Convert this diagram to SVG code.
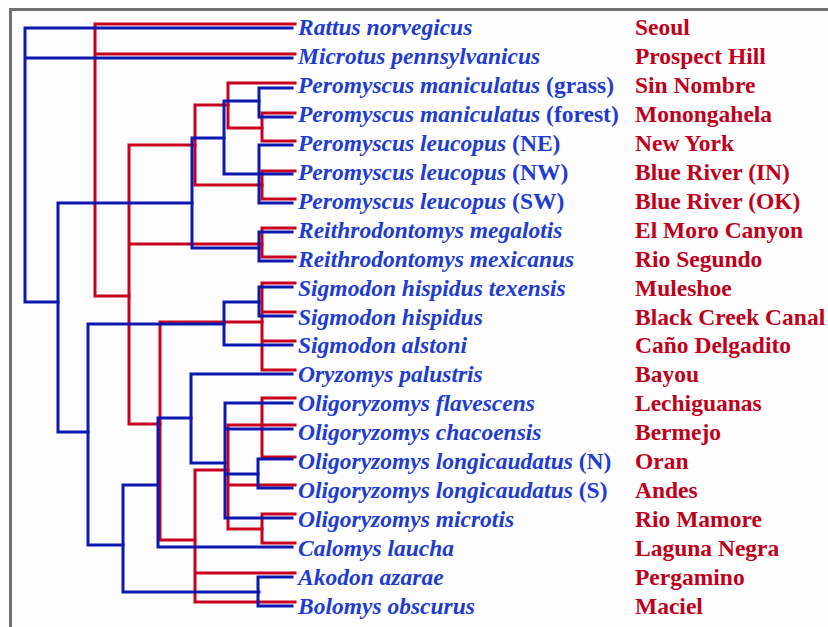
<svg xmlns="http://www.w3.org/2000/svg" width="828" height="627" viewBox="0 0 828 627">
<style>
.bg{fill:#fdfdfd}
.frame{fill:none;stroke:#707070;stroke-width:3}
.b{fill:none;stroke:#0c18b0;stroke-width:3;stroke-linecap:square;stroke-linejoin:miter}
.r{fill:none;stroke:#c8001e;stroke-width:3;stroke-linecap:square;stroke-linejoin:miter}
.sp{font-family:"Liberation Serif","Times New Roman",serif;font-size:23.5px;font-weight:bold;font-style:italic;fill:#1e3cd2}
.sp .n{font-style:normal}
.vi{font-family:"Liberation Serif","Times New Roman",serif;font-size:23.5px;font-weight:bold;fill:#c0001a}
</style>
<rect class="bg" x="0" y="0" width="828" height="627"/>
<rect class="frame" x="10.5" y="9.5" width="840" height="640"/>
<g id="connectors">
<g id="virus-tree">
<path class="r" d="M295,24H95V296M95,54H295M95,296H129"/>
<path class="r" d="M129,145V424M129,145H195M129,244H262M129,424H160"/>
<path class="r" d="M195,105V185M195,105H228M195,185H262"/>
<path class="r" d="M228,83V128M228,83H295M228,128H262"/>
<path class="r" d="M262,113V141M262,113H295M262,141H295"/>
<path class="r" d="M262,171V199M262,171H295M262,199H295"/>
<path class="r" d="M262,228V257M262,228H295M262,257H295"/>
<path class="r" d="M160,322V540M160,322H262M160,540H195"/>
<path class="r" d="M262,283V370M262,283H295M262,312H295M262,341H295M262,370H295"/>
<path class="r" d="M195,470V602M195,470H228M195,573H295M195,602H295"/>
<path class="r" d="M228,425V529M228,425H295M228,485H295M228,529H262"/>
<path class="r" d="M262,398V457M262,398H295M262,457H295"/>
<path class="r" d="M262,514V543M262,514H295M262,543H295"/>
</g>
<g id="host-tree">
<path class="b" d="M292,28H25V302M25,58H292M25,302H58"/>
<path class="b" d="M58,203V432M58,203H192M58,432H88"/>
<path class="b" d="M192,138V248M192,138H224M192,248H259"/>
<path class="b" d="M224,101V174M224,101H259M224,174H292"/>
<path class="b" d="M259,88V117M259,88H292M259,117H292"/>
<path class="b" d="M259,145V203M259,145H292M259,203H292"/>
<path class="b" d="M259,232V261M259,232H292M259,261H292"/>
<path class="b" d="M88,324V545M88,324H224M88,545H123"/>
<path class="b" d="M224,302V345M224,302H259M224,345H292"/>
<path class="b" d="M259,287V316M259,287H292M259,316H292"/>
<path class="b" d="M123,485V592M123,485H158M123,592H259"/>
<path class="b" d="M158,418V547M158,418H191M158,547H292"/>
<path class="b" d="M191,374V463M191,374H292M191,463H225"/>
<path class="b" d="M225,403V518M225,403H292M225,429H292M225,474H258M225,518H292"/>
<path class="b" d="M258,459V488M258,459H292M258,488H292"/>
<path class="b" d="M258,577V606M258,577H292M258,606H292"/>
</g>
</g>
<g id="row1"><text class="sp" x="298" y="35">Rattus norvegicus</text><text class="vi" x="635" y="35">Seoul</text></g>
<g id="row2"><text class="sp" x="298" y="64">Microtus pennsylvanicus</text><text class="vi" x="635" y="64">Prospect Hill</text></g>
<g id="row3"><text class="sp" x="298" y="93">Peromyscus maniculatus <tspan class="n">(grass)</tspan></text><text class="vi" x="635" y="93">Sin Nombre</text></g>
<g id="row4"><text class="sp" x="298" y="122">Peromyscus maniculatus <tspan class="n">(forest)</tspan></text><text class="vi" x="635" y="122">Monongahela</text></g>
<g id="row5"><text class="sp" x="298" y="151">Peromyscus leucopus <tspan class="n">(NE)</tspan></text><text class="vi" x="635" y="151">New York</text></g>
<g id="row6"><text class="sp" x="298" y="180">Peromyscus leucopus <tspan class="n">(NW)</tspan></text><text class="vi" x="635" y="180">Blue River (IN)</text></g>
<g id="row7"><text class="sp" x="298" y="209">Peromyscus leucopus <tspan class="n">(SW)</tspan></text><text class="vi" x="635" y="209">Blue River (OK)</text></g>
<g id="row8"><text class="sp" x="298" y="238">Reithrodontomys megalotis</text><text class="vi" x="635" y="238">El Moro Canyon</text></g>
<g id="row9"><text class="sp" x="298" y="266.5">Reithrodontomys mexicanus</text><text class="vi" x="635" y="266.5">Rio Segundo</text></g>
<g id="row10"><text class="sp" x="298" y="295.5">Sigmodon hispidus texensis</text><text class="vi" x="635" y="295.5">Muleshoe</text></g>
<g id="row11"><text class="sp" x="298" y="324.5">Sigmodon hispidus</text><text class="vi" x="635" y="324.5">Black Creek Canal</text></g>
<g id="row12"><text class="sp" x="298" y="353">Sigmodon alstoni</text><text class="vi" x="635" y="353">Caño Delgadito</text></g>
<g id="row13"><text class="sp" x="298" y="382">Oryzomys palustris</text><text class="vi" x="635" y="382">Bayou</text></g>
<g id="row14"><text class="sp" x="298" y="411">Oligoryzomys flavescens</text><text class="vi" x="635" y="411">Lechiguanas</text></g>
<g id="row15"><text class="sp" x="298" y="440">Oligoryzomys chacoensis</text><text class="vi" x="635" y="440">Bermejo</text></g>
<g id="row16"><text class="sp" x="298" y="469">Oligoryzomys longicaudatus <tspan class="n">(N)</tspan></text><text class="vi" x="635" y="469">Oran</text></g>
<g id="row17"><text class="sp" x="298" y="497.5">Oligoryzomys longicaudatus <tspan class="n">(S)</tspan></text><text class="vi" x="635" y="497.5">Andes</text></g>
<g id="row18"><text class="sp" x="298" y="526.5">Oligoryzomys microtis</text><text class="vi" x="635" y="526.5">Rio Mamore</text></g>
<g id="row19"><text class="sp" x="298" y="555.5">Calomys laucha</text><text class="vi" x="635" y="555.5">Laguna Negra</text></g>
<g id="row20"><text class="sp" x="298" y="584.5">Akodon azarae</text><text class="vi" x="635" y="584.5">Pergamino</text></g>
<g id="row21"><text class="sp" x="298" y="613.5">Bolomys obscurus</text><text class="vi" x="635" y="613.5">Maciel</text></g>
</svg>
